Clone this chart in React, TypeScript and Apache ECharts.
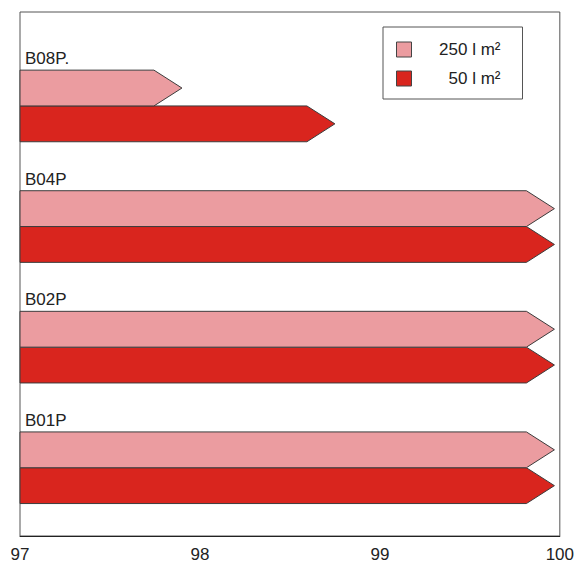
import React, { useEffect, useRef } from "react";
import * as echarts from "echarts";

const categories = ["B08P.", "B04P", "B02P", "B01P"];
const seriesNames = ["250 l m²", "50 l m²"];
const values250 = [97.9, 99.97, 99.97, 99.97];
const values50 = [98.75, 99.97, 99.97, 99.97];
const xTicks = [97, 98, 99, 100];

const colors = ["#eb9ca0", "#d9251e"];
const FONT = "'Liberation Sans', Arial, Helvetica, sans-serif";
const BAR_UNITS = 0.297;
const HEAD = 28;

export default function App() {
  const ref = useRef<HTMLDivElement>(null);
  useEffect(() => {
    if (!ref.current) return;
    const chart = echarts.init(ref.current, undefined, { renderer: "svg" });

    const makeRender = (slot: number) => (params: any, api: any) => {
      const val = api.value(0);
      const idx = api.value(1);
      const start = api.coord([xTicks[0], idx]);
      const tip = api.coord([val, idx]);
      const h = api.size([0, BAR_UNITS])[1];
      const yc = tip[1];
      const top = slot === 0 ? yc - h : yc;
      const bottom = slot === 0 ? yc : yc + h;
      const x0 = start[0];
      const xt = tip[0];
      const children: any[] = [
        {
          type: "polygon",
          shape: {
            points: [
              [x0, top],
              [xt - HEAD, top],
              [xt, (top + bottom) / 2],
              [xt - HEAD, bottom],
              [x0, bottom],
            ],
          },
          style: {
            fill: colors[slot],
            stroke: "#3c3c3c",
            lineWidth: 1,
          },
        },
      ];
      if (slot === 0) {
        children.push({
          type: "text",
          x: x0 + 5,
          y: top - 3,
          style: {
            text: categories[idx],
            fill: "#222",
            font: `17px ${FONT}`,
            textAlign: "left",
            textVerticalAlign: "bottom",
          },
        });
      }
      return { type: "group", children };
    };

    const option: any = {
      animation: false,
      backgroundColor: "#fff",
      grid: {
        left: 20,
        right: 14,
        top: 12,
        bottom: 25,
        show: true,
        borderColor: "#555",
        borderWidth: 1,
        backgroundColor: "transparent",
      },
      xAxis: {
        type: "value",
        min: 97,
        max: 100,
        interval: 1,
        axisLine: { show: true, onZero: false, lineStyle: { color: "#222", width: 1 } },
        axisTick: { show: false },
        splitLine: { show: false },
        axisLabel: {
          color: "#222",
          fontSize: 17,
          fontFamily: FONT,
          margin: 10,
          formatter: (v: number) => String(v),
        },
      },
      yAxis: {
        type: "value",
        inverse: true,
        min: -0.779,
        max: 3.566,
        show: false,
      },
      legend: {
        orient: "vertical",
        left: 383,
        top: 27,
        padding: [14, 22, 12, 13],
        itemGap: 12,
        itemWidth: 15,
        itemHeight: 15,
        icon: "rect",
        borderColor: "#555",
        borderWidth: 1,
        backgroundColor: "#fff",
        data: seriesNames,
        itemStyle: { borderColor: "#444", borderWidth: 1 },
        formatter: (name: string) => `{a|${name}}`,
        textStyle: {
          color: "#222",
          fontSize: 17,
          fontFamily: FONT,
          lineHeight: 15,
          rich: {
            a: {
              width: 84,
              align: "right",
              fontSize: 17,
              fontFamily: FONT,
              color: "#222",
              lineHeight: 15,
            },
          },
        },
      },
      series: [
        {
          name: seriesNames[0],
          type: "custom",
          renderItem: makeRender(0),
          itemStyle: { color: colors[0] },
          encode: { x: 0, y: 1 },
          data: values250.map((v, i) => [v, i]),
          z: 3,
        },
        {
          name: seriesNames[1],
          type: "custom",
          renderItem: makeRender(1),
          itemStyle: { color: colors[1] },
          encode: { x: 0, y: 1 },
          data: values50.map((v, i) => [v, i]),
          z: 2,
        },
      ],
    };
    chart.setOption(option);
    return () => chart.dispose();
  }, []);

  return (
    <div
      ref={ref}
      style={{ position: "fixed", left: 0, top: 0, width: 577, height: 563 }}
    />
  );
}
